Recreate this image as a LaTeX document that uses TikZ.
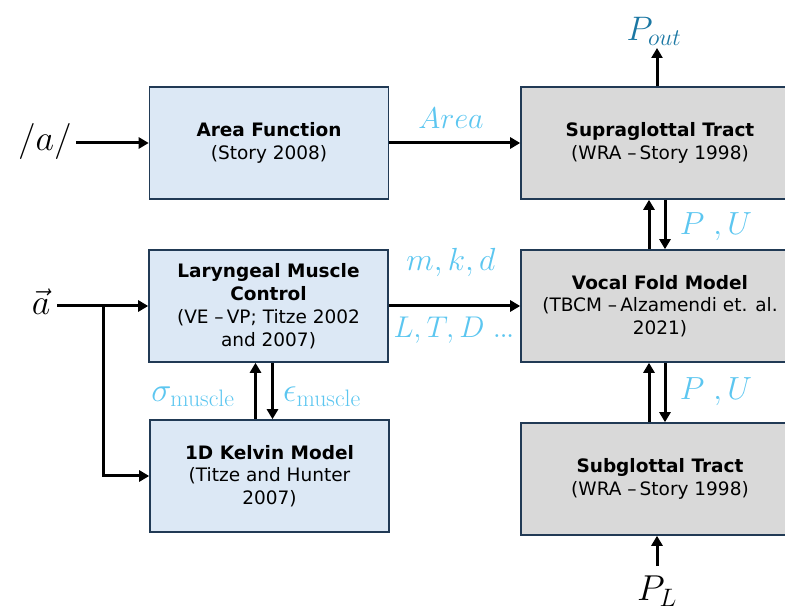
\RequirePackage{fix-cm}
\documentclass[tikz,border=0pt]{standalone}
\usepackage[no-math]{fontspec}
\setmainfont{DejaVu Sans}
\usetikzlibrary{arrows.meta}
\definecolor{boxline}{HTML}{213A55}
\definecolor{bluefill}{HTML}{DCE8F5}
\definecolor{grayfill}{HTML}{D9D9D9}
\definecolor{lbl}{HTML}{5CC6F0}
\definecolor{pout}{HTML}{1B77A3}
\tikzset{
  blk/.style={draw=boxline, line width=1.6pt, rectangle, align=center, minimum height=112pt,
    inner sep=0pt, font=\fontsize{18.5}{22.8}\selectfont},
  bluebox/.style={blk, fill=bluefill, minimum width=239pt},
  graybox/.style={blk, fill=grayfill, minimum width=278pt},
  arr/.style={line width=3pt, -{Triangle[length=10pt,width=11pt]}},
  mlbl/.style={text=lbl, inner sep=0pt, font=\fontsize{32}{38}\selectfont},
  blbl/.style={text=black, inner sep=0pt, font=\fontsize{36}{42}\selectfont}
}
\begin{document}
\begin{tikzpicture}[x=1pt,y=-1pt]
\useasboundingbox (0,0) rectangle (785,609);
\clip (0,0) rectangle (785,609);

\node[bluebox] (area) at (269,143) {\textbf{Area Function}\\(Story 2008)};
\node[graybox] (supra) at (660,143) {\textbf{Supraglottal Tract}\\(WRA –\,Story 1998)};
\node[bluebox] (lar) at (268.5,306) {\textbf{Laryngeal Muscle}\\\textbf{Control}\\(VE –\,VP; Titze 2002\\and 2007)};
\node[bluebox] (kel) at (269.5,476) {\textbf{1D Kelvin Model}\\(Titze and Hunter\\2007)};
\node[graybox] (vocal) at (660,306) {\textbf{Vocal Fold Model}\\(TBCM –\,Alzamendi et. al.\\2021)};
\node[graybox] (sub) at (660,479) {\textbf{Subglottal Tract}\\(WRA –\,Story 1998)};

% inputs
\node[blbl, anchor=east] (slash) at (72,142) {$/a/$};
\coordinate (slashend) at (76,143);
\draw[arr] (slashend) -- (area.west);

\node[blbl] (avec) at (41,302) {$\vec{a}$};
\coordinate (avecend) at (57,306);
\coordinate (br) at (103,306);
\draw[arr] (avecend) -- (lar.west);
\draw[arr] (br) |- (kel.west);

% area -> supra
\draw[arr] (area.east) -- (supra.west);
\node[mlbl, font=\fontsize{30}{36}\selectfont] (arealbl) at (451,118) {$Area$};

% P_out
\node[text=pout, inner sep=0pt, font=\fontsize{34}{40}\selectfont] (poutlbl) at (654,31) {$P_{out}$};
\coordinate (pouttip) at (657,48);
\draw[arr] (pouttip |- supra.north) -- (pouttip);

% supra <-> vocal
\draw[arr] ([xshift=-11pt]vocal.north) -- ([xshift=-11pt]supra.south);
\draw[arr] ([xshift=5pt]supra.south) -- ([xshift=5pt]vocal.north);
\node[mlbl] (pu1) at (716,227) {$P\;,U$};

% vocal <-> sub
\draw[arr] ([xshift=-11pt]sub.north) -- ([xshift=-11pt]vocal.south);
\draw[arr] ([xshift=5pt]vocal.south) -- ([xshift=5pt]sub.north);
\node[mlbl] (pu2) at (716,392) {$P\;,U$};

% lar -> vocal
\draw[arr] (lar.east) -- (vocal.west);
\node[mlbl] (mkd) at (451,263) {$m,k,d$};
\node[mlbl, font=\fontsize{30}{36}\selectfont] (ltd) at (454,330) {$L,T,D\;{.}\kern-1.5pt{.}\kern-1.5pt{.}$};

% lar <-> kel
\draw[arr] ([xshift=-14pt]kel.north) -- ([xshift=-14pt]kel.north |- lar.south);
\draw[arr] ([xshift=4pt]lar.south) -- ([xshift=4pt]lar.south |- kel.north);
\node[mlbl, font=\fontsize{34}{40}\selectfont] (sig) at (193,397) {$\sigma_{\mathrm{muscle}}$};
\node[mlbl, font=\fontsize{34}{40}\selectfont] (eps) at (322,397) {$\epsilon_{\mathrm{muscle}}$};

% P_L
\coordinate (plstart) at (657,566);
\draw[arr] (plstart) -- (plstart |- sub.south);
\node[blbl, anchor=north] (pl) at (657,576) {$P_L$};
\end{tikzpicture}
\end{document}
